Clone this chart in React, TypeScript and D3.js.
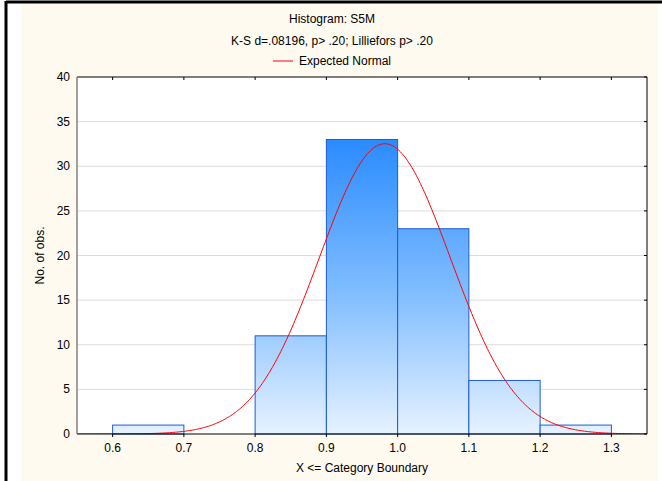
import React from "react";
import * as d3 from "d3";

const binStarts = [0.6, 0.7, 0.8, 0.9, 1.0, 1.1, 1.2];
const binWidth = 0.1;
const counts = [1, 0, 11, 33, 23, 6, 1];
const xTicks = [0.6, 0.7, 0.8, 0.9, 1.0, 1.1, 1.2, 1.3];
const yTicks = [0, 5, 10, 15, 20, 25, 30, 35, 40];
const normalMean = 0.982;
const normalSd = 0.092;
const nObs = 75;

const W = 662;
const H = 481;
const M = { left: 77, right: 647, top: 77, bottom: 434 };
const FONT = "Liberation Sans, Arial, sans-serif";

export default function App() {
  const x = d3.scaleLinear().domain([0.55, 1.35]).range([M.left, M.right]);
  const y = d3.scaleLinear().domain([0, 40]).range([M.bottom, M.top]);

  const curveXs = d3.range(0.55, 1.3501, 0.002);
  const expected = (v: number) =>
    (nObs * binWidth) / (normalSd * Math.sqrt(2 * Math.PI)) *
    Math.exp(-0.5 * ((v - normalMean) / normalSd) ** 2);
  const line = d3
    .line<number>()
    .x((d) => x(d))
    .y((d) => y(expected(d)))
    .curve(d3.curveLinear);

  return (
    <svg
      width={W}
      height={H}
      style={{ position: "fixed", left: 0, top: 0, display: "block" }}
      fontFamily={FONT}
    >
      <defs>
        <linearGradient
          id="barGrad"
          gradientUnits="userSpaceOnUse"
          x1={0}
          x2={0}
          y1={y(33)}
          y2={y(0)}
        >
          <stop offset="0%" stopColor="#2A8BFF" />
          <stop offset="55%" stopColor="#86C0FF" />
          <stop offset="100%" stopColor="#E6F2FF" />
        </linearGradient>
        <clipPath id="plotClip">
          <rect x={M.left} y={M.top} width={M.right - M.left} height={M.bottom - M.top} />
        </clipPath>
      </defs>
      <rect x={0} y={0} width={W} height={H} fill="#ffffff" />
      <rect x={21} y={3} width={637} height={H - 3} fill="#FFFAEF" />
      <line x1={6} y1={2} x2={W} y2={2} stroke="#000" strokeWidth={3} />
      <line x1={6} y1={1} x2={6} y2={H} stroke="#000" strokeWidth={3} />

      <rect x={M.left} y={M.top} width={M.right - M.left} height={M.bottom - M.top} fill="#ffffff" />
      {yTicks.slice(1, -1).map((t) => (
        <line key={t} x1={M.left} x2={M.right} y1={y(t)} y2={y(t)} stroke="#DCDCDC" strokeWidth={1} />
      ))}

      {binStarts.map((b, i) =>
        counts[i] > 0 ? (
          <rect
            key={b}
            x={x(b)}
            y={y(counts[i])}
            width={x(b + binWidth) - x(b)}
            height={y(0) - y(counts[i])}
            fill="url(#barGrad)"
            stroke="#1E5BD0"
            strokeWidth={1}
          />
        ) : null
      )}

      <path d={line(curveXs) || ""} fill="none" stroke="#FF0000" strokeWidth={1} clipPath="url(#plotClip)" />

      <line x1={M.left} x2={M.right} y1={M.top} y2={M.top} stroke="#000" />
      <line x1={M.right} x2={M.right} y1={M.top} y2={M.bottom} stroke="#000" />
      <line x1={M.left} x2={M.right} y1={M.bottom} y2={M.bottom} stroke="#000" />
      <line x1={M.left} x2={M.left} y1={M.top} y2={M.bottom} stroke="#808080" strokeWidth={1.5} />

      {xTicks.map((t) => (
        <g key={t}>
          <line x1={x(t)} x2={x(t)} y1={M.top} y2={M.top + 3} stroke="#000" />
          <line x1={x(t)} x2={x(t)} y1={M.bottom} y2={M.bottom + 3} stroke="#000" />
          <text x={x(t)} y={452} fontSize={12} textAnchor="middle" fill="#000">
            {t.toFixed(1)}
          </text>
        </g>
      ))}
      {yTicks.map((t) => (
        <g key={t}>
          <line x1={M.right - 3} x2={M.right} y1={y(t)} y2={y(t)} stroke="#000" />
          <text x={70} y={y(t) + 4} fontSize={12} textAnchor="end" fill="#000">
            {t}
          </text>
        </g>
      ))}

      <text x={332} y={23} fontSize={12} textAnchor="middle" fill="#000">Histogram: S5M</text>
      <text x={332} y={45} fontSize={12} textAnchor="middle" fill="#000">
        K-S d=.08196, p&gt; .20; Lilliefors p&gt; .20
      </text>
      <line x1={273} x2={293} y1={61} y2={61} stroke="#FF0000" strokeWidth={1} />
      <text x={299} y={65} fontSize={12} fill="#000">Expected Normal</text>

      <text x={362} y={472} fontSize={12} textAnchor="middle" fill="#000">
        X &lt;= Category Boundary
      </text>
      <text
        transform={`translate(44, ${(M.top + M.bottom) / 2}) rotate(-90)`}
        fontSize={12}
        textAnchor="middle"
        fill="#000"
      >
        No. of obs.
      </text>
    </svg>
  );
}
